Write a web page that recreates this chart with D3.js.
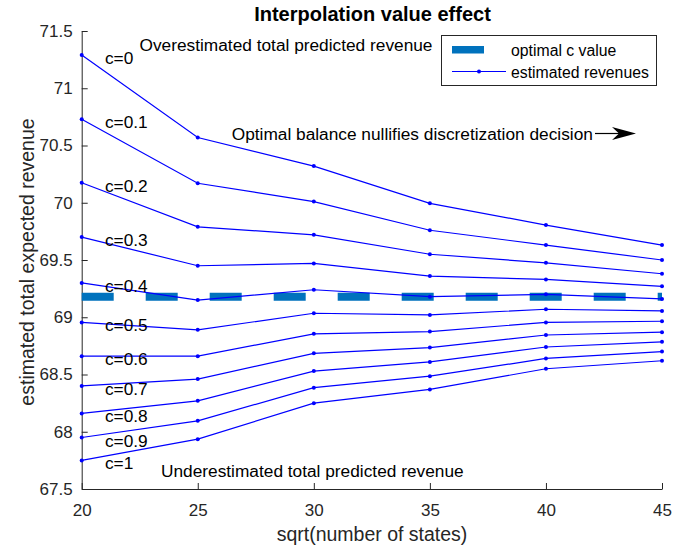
<!DOCTYPE html>
<html>
<head>
<meta charset="utf-8">
<script src="https://cdn.jsdelivr.net/npm/d3@7"></script>
<style>
  body { margin: 0; background: #fff; }
  svg { display: block; font-family: "Liberation Sans", Arial, Helvetica, sans-serif; }
</style>
</head>
<body>
<svg id="chart" width="685" height="552"></svg>
<script>
// data
const xValues = [20, 25, 30, 35, 40, 45];
const cLabels = ["c=0", "c=0.1", "c=0.2", "c=0.3", "c=0.4", "c=0.5", "c=0.6", "c=0.7", "c=0.8", "c=0.9", "c=1"];
const revenues = [
    [71.29, 70.57, 70.32, 69.995, 69.805, 69.63],
    [70.73, 70.17, 70.01, 69.76, 69.63, 69.50],
    [70.175, 69.79, 69.72, 69.55, 69.475, 69.38],
    [69.70, 69.45, 69.47, 69.36, 69.33, 69.27],
    [69.30, 69.15, 69.24, 69.18, 69.20, 69.16],
    [68.955, 68.89, 69.035, 69.02, 69.07, 69.055],
    [68.66, 68.66, 68.855, 68.875, 68.955, 68.965],
    [68.40, 68.46, 68.685, 68.735, 68.845, 68.87],
    [68.16, 68.27, 68.53, 68.61, 68.74, 68.785],
    [67.95, 68.095, 68.385, 68.485, 68.64, 68.70],
    [67.75, 67.935, 68.25, 68.37, 68.55, 68.62]
];
const optimalC = 69.18;
const xTicks = [20, 25, 30, 35, 40, 45];
const yTicks = [67.5, 68, 68.5, 69, 69.5, 70, 70.5, 71, 71.5];

const svg = d3.select("#chart");
const AXIS_COLOR = "#262626";
const LINE_COLOR = "#0000ff";
const OPT_COLOR = "#0072bd";

const xScale = d3.scaleLinear().domain([20, 45]).range([81.7, 662]);
const yScale = d3.scaleLinear().domain([67.5, 71.5]).range([489, 31]);

// axes, ticks pointing inward like matlab
const xAxis = d3.axisBottom(xScale).tickValues(xTicks).tickFormat(d3.format(""))
                .tickSizeInner(-6).tickSizeOuter(0).tickPadding(15);
const yAxis = d3.axisLeft(yScale).tickValues(yTicks).tickFormat(d3.format(""))
                .tickSizeInner(-6).tickSizeOuter(0).tickPadding(9);

const gx = svg.append("g").attr("transform", "translate(0," + yScale(67.5) + ")").call(xAxis);
const gy = svg.append("g").attr("transform", "translate(" + xScale(20) + ",0)").call(yAxis);
[gx, gy].forEach(g => {
    g.attr("font-family", null).attr("font-size", 17);
    g.selectAll("path, line").attr("stroke", AXIS_COLOR).attr("stroke-width", 1);
    g.selectAll("text").attr("fill", AXIS_COLOR);
});

// optimal c value (thick dashed)
svg.append("line")
   .attr("x1", xScale(20)).attr("x2", xScale(45))
   .attr("y1", yScale(optimalC)).attr("y2", yScale(optimalC))
   .attr("stroke", OPT_COLOR)
   .attr("stroke-width", 8)
   .attr("stroke-dasharray", "32,32");

// estimated revenue lines
const line = d3.line().x((d, i) => xScale(xValues[i])).y(d => yScale(d));
const series = svg.append("g").selectAll("g").data(revenues).enter().append("g");
series.append("path")
      .attr("d", d => line(d))
      .attr("fill", "none")
      .attr("stroke", LINE_COLOR)
      .attr("stroke-width", 1.2);
series.selectAll("circle")
      .data(d => d)
      .enter()
      .append("circle")
      .attr("cx", (d, i) => xScale(xValues[i]))
      .attr("cy", d => yScale(d))
      .attr("r", 2)
      .attr("fill", LINE_COLOR);

// c labels next to first point
svg.append("g").selectAll("text")
   .data(revenues)
   .enter()
   .append("text")
   .attr("x", xScale(21))
   .attr("y", d => yScale(d[0]) + 3)
   .attr("dy", "0.35em")
   .attr("font-size", 17.3)
   .attr("fill", "#000")
   .text((d, i) => cLabels[i]);

// annotations
svg.append("text").attr("x", 139.5).attr("y", 51).attr("font-size", 17.3)
   .text("Overestimated total predicted revenue");
svg.append("text").attr("x", 161).attr("y", 477).attr("font-size", 17.3)
   .text("Underestimated total predicted revenue");
svg.append("text").attr("x", 231.7).attr("y", 139.5).attr("font-size", 17.3)
   .text("Optimal balance nullifies discretization decision");
svg.append("line").attr("x1", 595).attr("x2", 622).attr("y1", 133.5).attr("y2", 133.5)
   .attr("stroke", "#000").attr("stroke-width", 1.2);
svg.append("path").attr("d", "M636,133.5 L612,127 L619,133.5 L612,140 Z").attr("fill", "#000");

// title and axis labels
svg.append("text").attr("x", 372.5).attr("y", 20.5).attr("text-anchor", "middle")
   .attr("font-size", 20).attr("font-weight", "bold").text("Interpolation value effect");
svg.append("text").attr("x", 372).attr("y", 541).attr("text-anchor", "middle")
   .attr("font-size", 19.5).attr("fill", AXIS_COLOR).text("sqrt(number of states)");
svg.append("text").attr("transform", "translate(34,262) rotate(-90)").attr("text-anchor", "middle")
   .attr("font-size", 19.5).attr("fill", AXIS_COLOR).text("estimated total expected revenue");

// legend
const legend = svg.append("g");
legend.append("rect").attr("x", 441.5).attr("y", 35.5).attr("width", 215).attr("height", 50)
      .attr("fill", "#fff").attr("stroke", AXIS_COLOR).attr("stroke-width", 1);
legend.append("rect").attr("x", 452).attr("y", 46).attr("width", 32).attr("height", 7.5).attr("fill", OPT_COLOR);
legend.append("line").attr("x1", 452).attr("x2", 506).attr("y1", 71.5).attr("y2", 71.5)
      .attr("stroke", LINE_COLOR).attr("stroke-width", 1.2);
legend.append("circle").attr("cx", 479).attr("cy", 71.5).attr("r", 2).attr("fill", LINE_COLOR);
legend.append("text").attr("x", 511).attr("y", 56).attr("font-size", 15.8).text("optimal c value");
legend.append("text").attr("x", 511).attr("y", 77.5).attr("font-size", 15.8).text("estimated revenues");
</script>
</body>
</html>
